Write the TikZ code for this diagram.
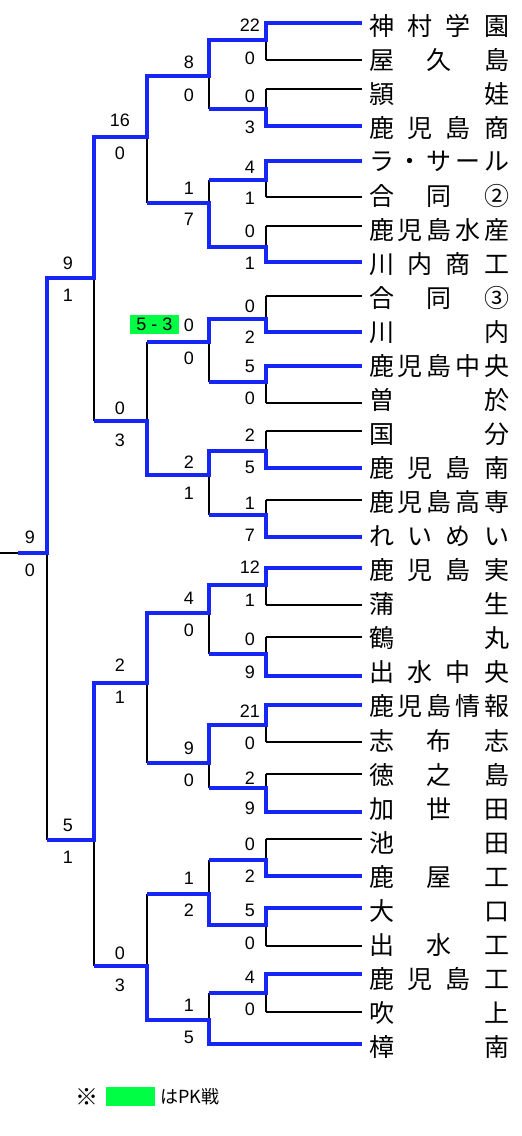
\documentclass[tikz,border=0pt]{standalone}
\usepackage{fontspec}
\setmainfont{Liberation Sans}
\newfontfamily\jp{Noto Sans CJK JP}
\definecolor{winblue}{RGB}{22,38,245}
\definecolor{pkgreen}{RGB}{0,255,68}
\pgfdeclarelayer{back}
\pgfdeclarelayer{bg}
\pgfsetlayers{back,bg,main}
\newcommand\mtch[5]{%
  \begin{pgfonlayer}{bg}\draw[lose] (#2 -| #1) -- (#3 -| #1);\end{pgfonlayer}
  \draw[win] (#4) -- (#4 -| #1) -- (#1) -- (#1 -| #5);}
\begin{document}
\begin{tikzpicture}[x=1pt,y=-1pt,
  win/.style={draw=winblue,line width=4pt},
  lose/.style={draw=black,line width=1.7pt},
  team/.style={anchor=west,inner sep=0pt,font=\jp\fontsize{25}{25}\selectfont},
  sc/.style={inner sep=0pt,font=\fontsize{18}{18}\selectfont},
  pk/.style={fill=pkgreen,inner sep=0pt,minimum width=49pt,minimum height=19pt,font=\fontsize{18}{18}\selectfont},
  leg/.style={inner sep=0pt,font=\jp\fontsize{18}{18}\selectfont}]
\useasboundingbox (0,0) rectangle (522,1136);
\begin{pgfonlayer}{back}
\fill[white] (0,0) rectangle (522,1136);
\end{pgfonlayer}

% team names
\foreach \i/\nm in {
0/{神\hfill 村\hfill 学\hfill 園},
1/{屋\hfill 久\hfill 島},
2/{頴\hfill 娃},
3/{鹿\hfill 児\hfill 島\hfill 商},
4/{ラ\hfill ・\hfill サ\hfill ー\hfill ル},
5/{合\hfill 同\hfill ②},
6/{鹿\hfill 児\hfill 島\hfill 水\hfill 産},
7/{川\hfill 内\hfill 商\hfill 工},
8/{合\hfill 同\hfill ③},
9/{川\hfill 内},
10/{鹿\hfill 児\hfill 島\hfill 中\hfill 央},
11/{曽\hfill 於},
12/{国\hfill 分},
13/{鹿\hfill 児\hfill 島\hfill 南},
14/{鹿\hfill 児\hfill 島\hfill 高\hfill 専},
15/{れ\hfill い\hfill め\hfill い},
16/{鹿\hfill 児\hfill 島\hfill 実},
17/{蒲\hfill 生},
18/{鶴\hfill 丸},
19/{出\hfill 水\hfill 中\hfill 央},
20/{鹿\hfill 児\hfill 島\hfill 情\hfill 報},
21/{志\hfill 布\hfill 志},
22/{徳\hfill 之\hfill 島},
23/{加\hfill 世\hfill 田},
24/{池\hfill 田},
25/{鹿\hfill 屋\hfill 工},
26/{大\hfill 口},
27/{出\hfill 水\hfill 工},
28/{鹿\hfill 児\hfill 島\hfill 工},
29/{吹\hfill 上},
30/{樟\hfill 南}}
  \node[team] (n\i) at (369,{25.5+34.05*\i}) {\makebox[140pt]{\nm}};

% team line ends
\foreach \i/\l in {0/23,1/60,2/89,3/126,4/161,5/197,6/226,7/262,8/296,9/332,
  10/366,11/403,12/431,13/468,14/500,15/537,16/568,17/605,18/637,19/676,
  20/705,21/742,22/774,23/812,24/839,25/876,26/908,27/946,28/974,29/1012,30/1044}
  \coordinate (t\i) at (362,\l);

% joins
\foreach \k/\m in {0/40,1/109,2/180,3/247,4/319,5/382,6/451,7/515,8/585,9/654,
  10/725,11/788,12/860,13/925,14/993}
  \coordinate (p\k) at (266,\m);
\foreach \k/\m in {A/76,B/203,C/342,D/475,E/613,F/763,G/894,H/1020}
  \coordinate (q\k) at (209,\m);
\foreach \k/\m in {AB/137,CD/421,EF/683,GH/966}
  \coordinate (r\k) at (147,\m);
\coordinate (s1) at (94,278);
\coordinate (s2) at (94,840);
\coordinate (f) at (47,553);
\coordinate (champ) at (18,553);
\coordinate (edge) at (0,553);

% team lines (black)
\begin{pgfonlayer}{bg}
\foreach \i in {0,...,29}{
  \pgfmathtruncatemacro\j{int(\i/2)}
  \draw[lose] (t\i) -- (t\i -| p\j);}
\draw[lose] (champ) -- (edge);
\end{pgfonlayer}

% round 1
\mtch{p0}{t0}{t1}{t0}{qA}
\mtch{p1}{t2}{t3}{t3}{qA}
\mtch{p2}{t4}{t5}{t4}{qB}
\mtch{p3}{t6}{t7}{t7}{qB}
\mtch{p4}{t8}{t9}{t9}{qC}
\mtch{p5}{t10}{t11}{t10}{qC}
\mtch{p6}{t12}{t13}{t13}{qD}
\mtch{p7}{t14}{t15}{t15}{qD}
\mtch{p8}{t16}{t17}{t16}{qE}
\mtch{p9}{t18}{t19}{t19}{qE}
\mtch{p10}{t20}{t21}{t20}{qF}
\mtch{p11}{t22}{t23}{t23}{qF}
\mtch{p12}{t24}{t25}{t25}{qG}
\mtch{p13}{t26}{t27}{t26}{qG}
\mtch{p14}{t28}{t29}{t28}{qH}
% round 2
\mtch{qA}{p0}{p1}{p0}{rAB}
\mtch{qB}{p2}{p3}{p3}{rAB}
\mtch{qC}{p4}{p5}{p4}{rCD}
\mtch{qD}{p6}{p7}{p6}{rCD}
\mtch{qE}{p8}{p9}{p8}{rEF}
\mtch{qF}{p10}{p11}{p10}{rEF}
\mtch{qG}{p12}{p13}{p13}{rGH}
\mtch{qH}{p14}{t30}{t30}{rGH}
% round 3
\mtch{rAB}{qA}{qB}{qA}{s1}
\mtch{rCD}{qC}{qD}{qD}{s1}
\mtch{rEF}{qE}{qF}{qE}{s2}
\mtch{rGH}{qG}{qH}{qH}{s2}
% round 4
\mtch{s1}{rAB}{rCD}{rAB}{f}
\mtch{s2}{rEF}{rGH}{rEF}{f}
% final
\mtch{f}{s1}{s2}{s1}{champ}

% scores
\foreach \y/\v [count=\c] in {25/22,58/0,96/0,127/3,167/4,198/1,231/0,263/1,
  306/0,337/2,366/5,398/0,435/2,467/5,503/1,535/7,567/12,600/1,639/0,672/9,
  711/21,743/0,778/2,808/9,844/0,876/2,910/5,943/0,977/4,1009/0}
  \node[sc] (sa\c) at (250,\y) {\v};
\foreach \y/\v [count=\c] in {62/8,95/0,188/1,219/7,325/0,358/0,462/2,493/1,
  598/4,630/0,748/9,780/0,878/1,910/2,1005/1,1037/5}
  \node[sc] (sb\c) at (189,\y) {\v};
\foreach \y/\v [count=\c] in {120/16,153/0,408/0,440/3,665/2,697/1,953/0,985/3}
  \node[sc] (sc\c) at (120,\y) {\v};
\foreach \y/\v [count=\c] in {263/9,295/1,825/5,857/1}
  \node[sc] (sd\c) at (68,\y) {\v};
\node[sc] (se1) at (30,537) {9};
\node[sc] (se2) at (30,570) {0};

\node[pk] (pkbox) at (154.5,324.5) {5 - 3};

% legend
\node[leg,font=\jp\fontsize{23}{23}\selectfont] (kome) at (87,1097) {※};
\node[pk] (legbox) at (130.5,1096) {};
\node[leg,anchor=west] (legtext) at (160,1097) {はPK戦};
\end{tikzpicture}
\end{document}
